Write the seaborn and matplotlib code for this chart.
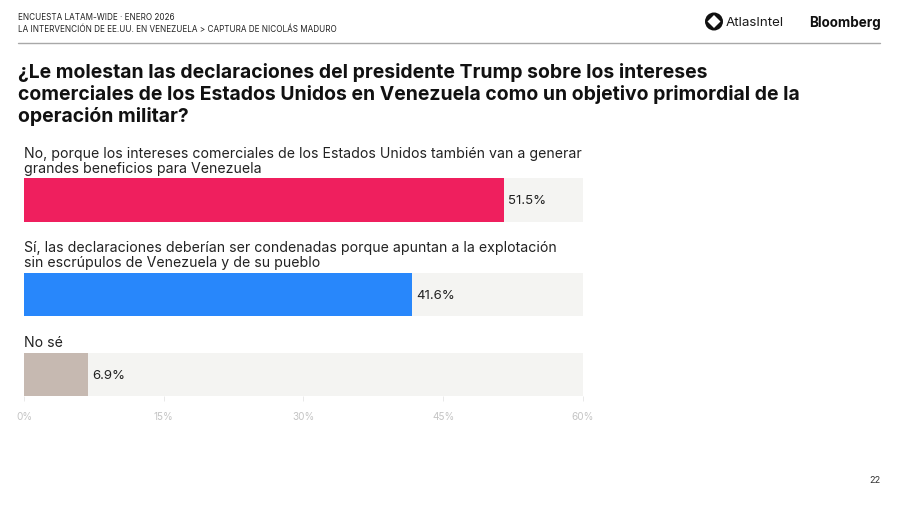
import matplotlib
matplotlib.use('Agg')
import matplotlib.pyplot as plt
from matplotlib.patches import Circle, RegularPolygon
import pandas as pd
import seaborn as sns

# datos
labels = [
    'No, porque los intereses comerciales de los Estados Unidos también van a generar\ngrandes beneficios para Venezuela',
    'Sí, las declaraciones deberían ser condenadas porque apuntan a la explotación\nsin escrúpulos de Venezuela y de su pueblo',
    'No sé',
]
values = [51.5, 41.6, 6.9]
colors = ['#EF1F5E', '#2887FB', '#C6B9B1']
x_ticks = [0, 15, 30, 45, 60]
x_ticklabels = ['0%', '15%', '30%', '45%', '60%']
header = ['ENCUESTA LATAM-WIDE · ENERO 2026',
          'LA INTERVENCIÓN DE EE.UU. EN VENEZUELA > CAPTURA DE NICOLÁS MADURO']
title = ('¿Le molestan las declaraciones del presidente Trump sobre los intereses\n'
         'comerciales de los Estados Unidos en Venezuela como un objetivo primordial de la\n'
         'operación militar?')

sns.set_theme(style='white')
plt.rcParams['font.family'] = ['Inter', 'DejaVu Sans']

W, H = 900, 506
fig = plt.figure(figsize=(W / 100, H / 100), dpi=100, facecolor='white')

def ftext(px, py, s, **kw):
    return fig.text(px / W, 1 - py / H, s, **kw)

# cabecera
ftext(18, 17.5, header[0], fontsize=5.87, color='#222222', va='center')
ftext(18, 29, header[1], fontsize=5.87, color='#222222', va='center')
fig.add_artist(plt.Line2D([18 / W, 880 / W], [1 - 43.5 / H] * 2, color='#A8A8A8', lw=1))

# logos
bg = fig.add_axes([0, 0, 1, 1], zorder=-1)
bg.set_xlim(0, W)
bg.set_ylim(H, 0)
bg.axis('off')
bg.add_patch(Circle((714, 22.5), 9, color='#111111', lw=0))
bg.add_patch(RegularPolygon((714, 22.5), 4, radius=6.5, color='white', lw=0))
ftext(726, 22.5, 'AtlasIntel', fontsize=9.6, color='#1a1a1a', va='center')
ftext(809, 22.5, 'Bloomberg', fontsize=9.7, color='#111111', va='center', fontweight='bold')

# titulo
ftext(18, 94, title, fontsize=13.95, fontweight='bold', color='#111111', va='center',
      linespacing=1.2)

# barras, cada una en su eje porque la separacion no es uniforme
bar_tops = [179.3, 274, 354]
bar_h = 43.2
label_y = [161.5, 255.5, 343]
axes = []
for i, (lab, val, col) in enumerate(zip(labels, values, colors)):
    ax = fig.add_axes([24 / W, 1 - (bar_tops[i] + bar_h) / H, 559 / W, bar_h / H])
    df = pd.DataFrame({'cat': [lab], 'pct': [val]})
    sns.barplot(data=df, x='pct', y='cat', color=col, saturation=1, width=1, linewidth=0, ax=ax)
    ax.set_facecolor('#F4F4F2')
    ax.set_xlim(0, 60)
    ax.set_xlabel('')
    ax.set_ylabel('')
    ax.set_yticks([])
    sns.despine(ax=ax, left=True, bottom=True)
    ax.set_xticks([])
    ax.text(val + 0.45, 0, f'{val}%', va='center', ha='left', fontsize=9.5, color='#222222')
    ftext(24, label_y[i], lab, fontsize=10.18, color='#222222', va='center', linespacing=1.08)
    axes.append(ax)

# eje x
axes[-1].set_xticks(x_ticks)
axes[-1].set_xticklabels(x_ticklabels, fontsize=7.2, color='#C4C4C4')
axes[-1].tick_params(axis='x', length=3.5, width=0.5, color='#E0E0E0', pad=7, bottom=True)

# numero de pagina
ftext(875, 481, '22', fontsize=6.6, color='#333333', ha='center', va='center')

fig.savefig('out.png', dpi=100)
